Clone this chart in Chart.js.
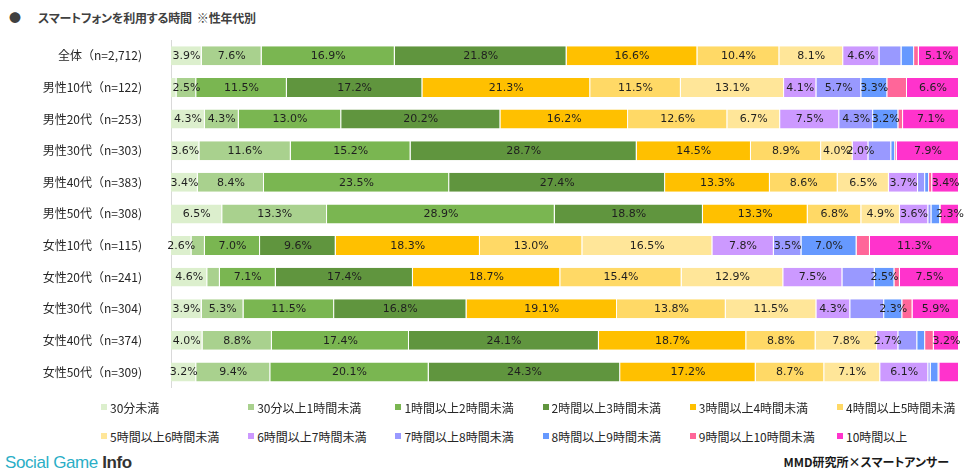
<!DOCTYPE html>
<html lang="ja">
<head>
<meta charset="utf-8">
<script src="https://cdn.jsdelivr.net/npm/chart.js@4.4.1/dist/chart.umd.min.js"></script>
<style>
  body { margin: 0; background: #fff; font-family: "Noto Sans CJK JP", sans-serif; }
  #wrap { position: relative; width: 976px; height: 475px; overflow: hidden; }
  #chart-box { position: absolute; left: 0; top: 0; width: 976px; height: 416px; }
  .title { position: absolute; left: 9px; top: 9px; font-size: 12px; font-weight: bold; color: #404040; font-feature-settings: "palt"; white-space: nowrap; letter-spacing: -0.2px; }
  .title .dot { display: inline-block; width: 29px; }
  .legend-item { position: absolute; display: flex; align-items: center; height: 18px; font-size: 12px; color: #262626; white-space: nowrap; }
  .legend-item i { display: inline-block; width: 6px; height: 6px; margin-right: 3px; }
  .brand { position: absolute; left: 5px; top: 451px; font-family: "Liberation Sans", Arial, sans-serif; font-size: 17px; line-height: 24px; letter-spacing: -0.4px; }
  .brand .a { color: #2aaec6; }
  .brand .b { color: #333; font-weight: bold; }
  .source { position: absolute; right: 27px; top: 452px; font-size: 12px; font-weight: bold; color: #1a1a1a; line-height: 20px; font-feature-settings: "palt"; }
</style>
</head>
<body>
<div id="wrap">
  <div class="title"><span class="dot">●</span>スマートフォンを利用する時間&nbsp;&nbsp;※性年代別</div>
  <div id="chart-box"><canvas id="chart-time"></canvas></div>
  <div id="legend"></div>
  <div class="brand"><span class="a">Social Game </span><span class="b">Info</span></div>
  <div class="source">MMD研究所×スマートアンサー</div>
</div>
<script>
// categories (top to bottom)
let categories = [
  "全体（n=2,712)", "男性10代（n=122)", "男性20代（n=253)", "男性30代（n=303)",
  "男性40代（n=383)", "男性50代（n=308)", "女性10代（n=115)", "女性20代（n=241)",
  "女性30代（n=304)", "女性40代（n=374)", "女性50代（n=309)"
];

let seriesNames = [
  "30分未満", "30分以上1時間未満", "1時間以上2時間未満", "2時間以上3時間未満",
  "3時間以上4時間未満", "4時間以上5時間未満", "5時間以上6時間未満", "6時間以上7時間未満",
  "7時間以上8時間未満", "8時間以上9時間未満", "9時間以上10時間未満", "10時間以上"
];

// series values (%), one per category
let under30m  = [3.9, 0.7, 4.3, 3.6, 3.4, 6.5, 2.6, 4.6, 3.9, 4.0, 3.2];
let m30to1h   = [7.6, 2.5, 4.3, 11.6, 8.4, 13.3, 1.7, 1.6, 5.3, 8.8, 9.4];
let h1to2     = [16.9, 11.5, 13.0, 15.2, 23.5, 28.9, 7.0, 7.1, 11.5, 17.4, 20.1];
let h2to3     = [21.8, 17.2, 20.2, 28.7, 27.4, 18.8, 9.6, 17.4, 16.8, 24.1, 24.3];
let h3to4     = [16.6, 21.3, 16.2, 14.5, 13.3, 13.3, 18.3, 18.7, 19.1, 18.7, 17.2];
let h4to5     = [10.4, 11.5, 12.6, 8.9, 8.6, 6.8, 13.0, 15.4, 13.8, 8.8, 8.7];
let h5to6     = [8.1, 13.1, 6.7, 4.0, 6.5, 4.9, 16.5, 12.9, 11.5, 7.8, 7.1];
let h6to7     = [4.6, 4.1, 7.5, 2.0, 3.7, 3.6, 7.8, 7.5, 4.3, 2.7, 6.1];
let h7to8     = [2.8, 5.7, 4.3, 2.9, 0.9, 0.4, 3.5, 4.1, 4.3, 2.4, 0.3];
let h8to9     = [1.6, 3.3, 3.2, 0.5, 0.5, 1.1, 7.0, 2.5, 2.3, 1.0, 1.0];
let h9to10    = [0.6, 2.5, 0.6, 0.2, 0.4, 0.1, 1.7, 0.7, 1.3, 1.1, 0.1];
let over10h   = [5.1, 6.6, 7.1, 7.9, 3.4, 2.3, 11.3, 7.5, 5.9, 3.2, 2.5];

// labels that the original leaves off ("category:series")
let hiddenLabels = ["0:8", "1:10", "3:8", "7:8", "8:8", "9:8", "10:11"];

let seriesValues = [under30m, m30to1h, h1to2, h2to3, h3to4, h4to5, h5to6, h6to7, h7to8, h8to9, h9to10, over10h];
let seriesColors = [
  "#dcefcd", "#a9d18e", "#7ab651", "#60953e", "#ffc000", "#ffd966",
  "#ffe699", "#cc99ff", "#9999ff", "#6699ff", "#ff6699", "#ff33cc"
];

const segLabels = {
  id: "segLabels",
  afterDatasetsDraw(chart) {
    let ctx = chart.ctx;
    ctx.save();
    ctx.font = '11px "DejaVu Sans"';
    ctx.fillStyle = "#1f1f1f";
    ctx.textAlign = "center";
    ctx.textBaseline = "middle";
    chart.data.datasets.forEach(function(ds, i) {
      chart.getDatasetMeta(i).data.forEach(function(bar, j) {
        let v = ds.data[j];
        if (v < 2 || hiddenLabels.includes(j + ":" + i)) return;
        let c = bar.getCenterPoint();
        ctx.fillText(v.toFixed(1) + "%", c.x, c.y + 0.5);
      });
    });
    ctx.restore();
  }
};

let datasets = seriesNames.map(function(name, i) {
  return {
    label: name,
    data: seriesValues[i],
    backgroundColor: seriesColors[i],
    borderColor: "#ffffff",
    borderWidth: { top: 0, bottom: 0, left: 0, right: 1 },
    borderSkipped: false,
    categoryPercentage: 1,
    barPercentage: 0.6
  };
});

let ctx = document.getElementById("chart-time").getContext("2d");
window.timeChart = new Chart(ctx, {
  type: "bar",
  data: { labels: categories, datasets: datasets },
  options: {
    indexAxis: "y",
    responsive: true,
    maintainAspectRatio: false,
    animation: false,
    layout: { padding: { top: 40, right: 17, bottom: 4, left: 0 } },
    plugins: {
      legend: { display: false },
      tooltip: { enabled: false }
    },
    scales: {
      x: { stacked: true, min: 0, max: 100, display: false },
      y: {
        stacked: true,
        grid: { display: false },
        border: { display: true, color: "#d9d9d9", width: 1 },
        ticks: {
          color: "#262626",
          padding: 21,
          font: { family: "Noto Sans CJK JP", size: 12 }
        },
        afterFit: function(scale) { scale.width = 171; }
      }
    }
  },
  plugins: [segLabels]
});

// legend, 6 columns x 2 rows
let legend = document.getElementById("legend");
seriesNames.forEach(function(name, i) {
  let item = document.createElement("div");
  item.className = "legend-item";
  item.style.left = (101 + 147.2 * (i % 6)) + "px";
  item.style.top = (i < 6 ? 398 : 427) + "px";
  item.innerHTML = '<i style="background:' + seriesColors[i] + '"></i>' + name;
  legend.appendChild(item);
});
</script>
</body>
</html>
